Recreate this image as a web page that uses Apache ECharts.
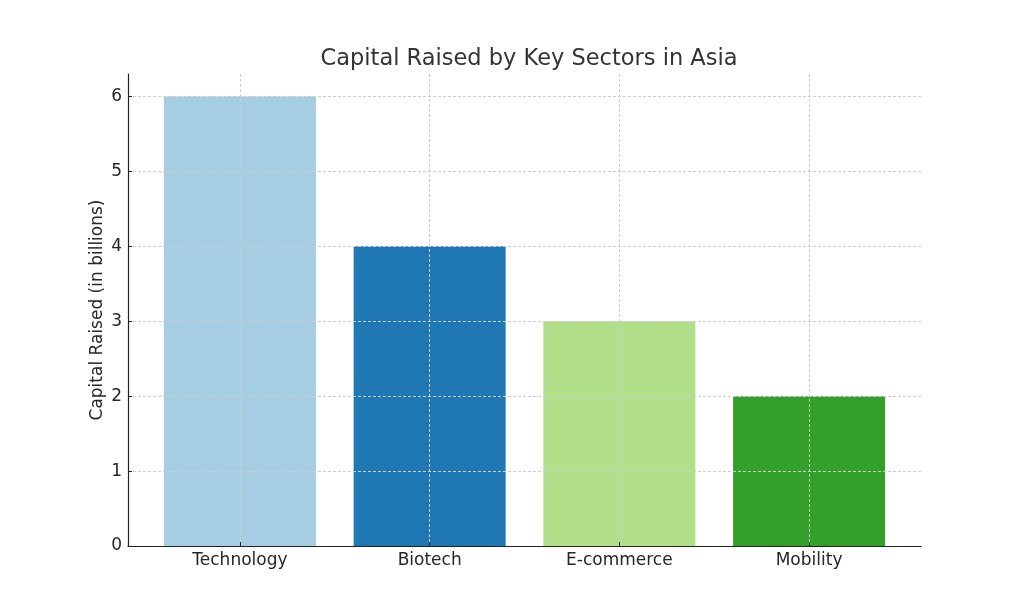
<!DOCTYPE html>
<html>
<head>
<meta charset="utf-8">
<script src="https://cdn.jsdelivr.net/npm/echarts@6/dist/echarts.min.js"></script>
<style>html,body{margin:0;padding:0;background:#fff}#c{width:1024px;height:614px}</style>
</head>
<body>
<div id="c"></div>
<script>
const categories = ['Technology', 'Biotech', 'E-commerce', 'Mobility'];
const values = [6, 4, 3, 2];
const colors = ['#a6cee3', '#1f78b4', '#b2df8a', '#33a02c'];
const yTicks = [0, 1, 2, 3, 4, 5, 6];

const chart = echarts.init(document.getElementById('c'));
const font = 'DejaVu Sans';
chart.setOption({
  animation: false,
  title: {
    text: 'Capital Raised by Key Sectors in Asia',
    left: 524, top: 43, textAlign: 'center',
    textStyle: { fontFamily: font, fontSize: 22.5, fontWeight: 'normal', color: '#333' }
  },
  grid: { left: 128, right: 103, top: 74, bottom: 68 },
  xAxis: {
    type: 'value', min: -0.59, max: 3.59, z: 3,
    axisLine: { show: true, onZero: false, lineStyle: { color: '#222', width: 1.2 } },
    axisTick: { show: true, inside: true, length: 4, customValues: [0, 1, 2, 3], lineStyle: { color: '#222' } },
    axisLabel: {
      customValues: [0, 1, 2, 3],
      formatter: v => categories[Math.round(v)],
      fontFamily: font, fontSize: 17, color: '#262626', margin: 6
    },
    splitLine: { show: true, lineStyle: { color: '#cccccc', type: [3, 2], width: 1 } }
  },
  yAxis: {
    type: 'value', min: 0, max: 6.3, z: 3,
    name: 'Capital Raised (in billions)', nameLocation: 'middle', nameGap: 22,
    nameMoveOverlap: false,
    nameTextStyle: { fontFamily: font, fontSize: 17, color: '#262626' },
    axisLine: { show: true, onZero: false, lineStyle: { color: '#222', width: 1.2 } },
    axisTick: { show: true, inside: true, length: 4, customValues: yTicks, lineStyle: { color: '#222' } },
    axisLabel: { customValues: yTicks, fontFamily: font, fontSize: 17, color: '#262626', margin: 6 },
    splitLine: { show: true, lineStyle: { color: '#cccccc', type: [3, 2], width: 1 } }
  },
  series: [{
    type: 'bar',
    barWidth: 152,
    data: values.map((v, i) => ({ value: [i, v], itemStyle: { color: colors[i] } }))
  }]
});
</script>
</body>
</html>
